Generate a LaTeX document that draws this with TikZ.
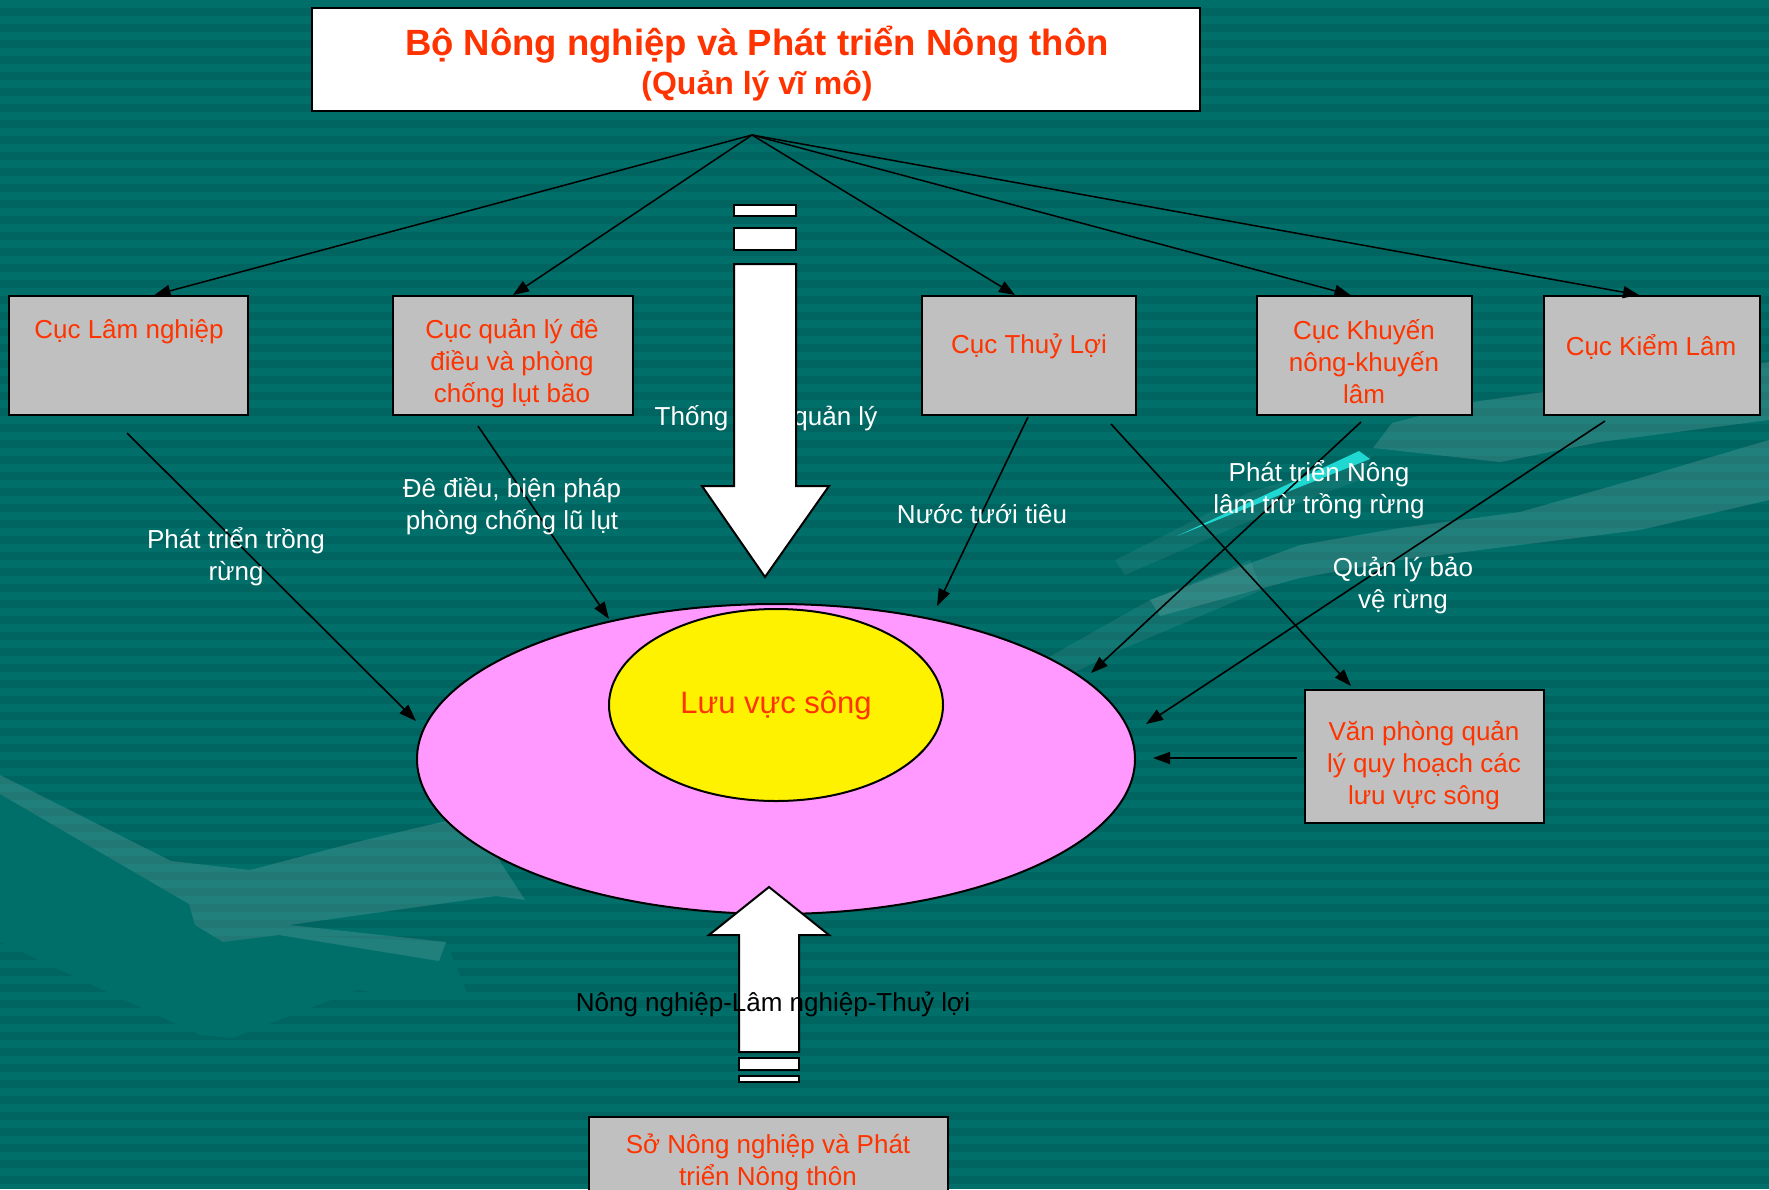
\documentclass[tikz,border=0pt]{standalone}
\usepackage{fontspec}
\setmainfont{Liberation Sans}
\usetikzlibrary{arrows.meta,shapes.geometric,calc}
\definecolor{bgteal}{HTML}{006E69}
\definecolor{bgdark}{HTML}{006560}
\definecolor{redtxt}{HTML}{FF3300}
\definecolor{boxgray}{HTML}{C0C0C0}
\definecolor{pinkfill}{HTML}{FF99FF}
\definecolor{cyanstreak}{HTML}{1FD8D2}
\begin{document}
\begin{tikzpicture}[x=1pt,y=-1pt,
  box/.style={draw=black, line width=2pt, fill=boxgray, inner sep=0pt},
  boxtext/.style={text=redtxt, font=\fontsize{26}{32}\selectfont, align=center, inner sep=0pt},
  lbl/.style={text=white, font=\fontsize{26}{32}\selectfont, align=center, inner sep=0pt},
  conn/.style={line width=1.6pt, -{Triangle[length=17pt,width=12pt]}},
  fan/.style={line width=1.5pt, -{Triangle[length=16pt,width=12pt]}},
  blockarrow/.style={draw=black, line width=2pt, fill=white, line join=miter},
  deco/.style={fill=white, fill opacity=0.13, draw=none},
  plain/.style={fill=bgteal, draw=none}]
\useasboundingbox (0,0) rectangle (1769,1189);
% background
\fill[bgteal] (0,0) rectangle (1769,1189);
\foreach \i in {0,...,74} {\fill[bgdark] (0,{16*\i+8}) rectangle (1769,{16*\i+16});}
% decorative shapes, lower left
\fill[plain] (0,794) -- (189,904) -- (195,925) -- (223,942) -- (279,935) -- (446,942) -- (470,1000) -- (411,997) -- (357,990) -- (232,1038) -- (200,1035) -- (0,942) -- cycle;
\fill[deco] (0,775) -- (171,861) -- (250,870) -- (357,842) -- (429,825) -- (470,815) -- (525,900) -- (496,896) -- (289,925) -- (446,942) -- (439,961) -- (279,935) -- (223,942) -- (195,925) -- (189,904) -- (0,794) -- cycle;
% decorative shapes, right
\fill[deco] (1373,448) -- (1392,423) -- (1473,402) -- (1544,392) -- (1769,362) -- (1769,420) -- (1600,442) -- (1500,462) -- cycle;
\fill[deco] (1150,600) -- (1300,545) -- (1400,528) -- (1520,512) -- (1640,478) -- (1769,440) -- (1769,500) -- (1640,530) -- (1520,545) -- (1400,560) -- (1300,578) -- (1160,616) -- cycle;
\fill[deco, fill opacity=0.07] (1040,662) -- (1150,600) -- (1250,560) -- (1262,590) -- (1120,650) -- (1055,682) -- cycle;
\fill[deco, fill opacity=0.06] (1115,560) -- (1250,492) -- (1372,455) -- (1360,480) -- (1240,525) -- (1125,575) -- cycle;
\fill[cyanstreak] (1177,536) -- (1359,451) -- (1370,459) -- cycle;
% title
\node[draw=black, line width=2pt, fill=white, minimum width=888pt, minimum height=103pt, inner sep=0pt] (title) at (756,59.5) {};
\node[text=redtxt, font=\fontsize{36.5}{40}\selectfont\bfseries, inner sep=0pt] (titleA) at (757,44.5) {Bộ Nông nghiệp và Phát triển Nông thôn};
\node[text=redtxt, font=\fontsize{32}{36}\selectfont\bfseries, inner sep=0pt] (titleB) at (757,86) {(Quản lý vĩ mô)};
\coordinate (hub) at (752,135);
% boxes
\node[box, minimum width=239pt, minimum height=119pt] (lam) at (128.5,355.5) {};
\node[box, minimum width=240pt, minimum height=119pt] (de) at (513,355.5) {};
\node[box, minimum width=214pt, minimum height=119pt] (thuy) at (1029,355.5) {};
\node[box, minimum width=215pt, minimum height=119pt] (khuyen) at (1364.5,355.5) {};
\node[box, minimum width=216pt, minimum height=119pt] (kiem) at (1652,355.5) {};
\node[box, minimum width=239pt, minimum height=133pt] (van) at (1424.5,756.5) {};
\node[box, minimum width=359pt, minimum height=100pt] (so) at (768.5,1167) {};
% fan arrows
\draw[fan] (hub) -- ([xshift=26pt]lam.north);
\draw[fan] (hub) -- (de.north);
\draw[fan] (hub) -- ([xshift=-14pt]thuy.north);
\draw[fan] (hub) -- ([xshift=-14pt]khuyen.north);
\draw[fan] (hub) -- ([xshift=-13pt]kiem.north);
% box texts
\node[boxtext] (tlam) at (129,331.5) {Cục Lâm nghiệp};
\node[boxtext] (tde) at (512,363.5) {Cục quản lý đê\\điều và phòng\\chống lụt bão};
\node[boxtext] (tthuy) at (1029,346.5) {Cục Thuỷ Lợi};
\node[boxtext] (tkhuyen) at (1364,362) {Cục Khuyến\\nông-khuyến\\lâm};
\node[boxtext] (tkiem) at (1651,346.5) {Cục Kiểm Lâm};
\node[boxtext] (tvan) at (1424,765) {Văn phòng quản\\lý quy hoạch các\\lưu vực sông};
\node[boxtext] (tso) at (768,1162.5) {Sở Nông nghiệp và Phát\\triển Nông thôn};
% river basin
\node[draw=black, line width=2pt, fill=pinkfill, ellipse, minimum width=718pt, minimum height=310pt, inner sep=0pt] (outer) at (776,759) {};
\node[draw=black, line width=2pt, fill=yellow, ellipse, minimum width=334pt, minimum height=192pt, inner sep=0pt, text=redtxt, font=\fontsize{31}{36}\selectfont] (inner) at (776,705) {Lưu vực sông};
% connector end points
\coordinate (s1) at (127,433);  \coordinate (e1) at (416,721);
\coordinate (s2) at (478,426);  \coordinate (e2) at (609,619);
\coordinate (s3) at (1028,417); \coordinate (e3) at (937,606);
\coordinate (s4) at (1111,424); \coordinate (e4) at (1351,686);
\coordinate (s5) at (1361,422); \coordinate (e5) at (1091,673);
\coordinate (s6) at (1605,421); \coordinate (e6) at (1146,724);
\coordinate (s7) at (1297,758); \coordinate (e7) at (1153,758);
\draw[conn] (s1) -- (e1);
\draw[conn] (s2) -- (e2);
\draw[conn] (s3) -- (e3);
\draw[conn] (s4) -- (e4);
\draw[conn] (s5) -- (e5);
\draw[conn] (s6) -- (e6);
\draw[conn] (s7) -- (e7);
% white labels
\node[lbl] (l1) at (236,556.5) {Phát triển trồng\\rừng};
\node[lbl] (l2) at (512,506) {Đê điều, biện pháp\\phòng chống lũ lụt};
\node[lbl] (l3) at (982,514.5) {Nước tưới tiêu};
\node[lbl] (l4) at (1319,490) {Phát triển Nông\\lâm trừ trồng rừng};
\node[lbl] (l5) at (1403,586) {Quản lý bảo\\vệ rừng};
\node[lbl] (l6) at (766,418.5) {Thống nhất quản lý};
% block arrows
\draw[blockarrow] (734,205) rectangle (796,216);
\draw[blockarrow] (734,228) rectangle (796,250);
\draw[blockarrow] (734,264) -- (796,264) -- (796,486) -- (829,486) -- (765,577) -- (702,486) -- (734,486) -- cycle;
\draw[blockarrow] (739,1052) -- (739,935) -- (709,935) -- (769,887) -- (829,935) -- (799,935) -- (799,1052) -- cycle;
\draw[blockarrow] (739,1058) rectangle (799,1070);
\draw[blockarrow] (739,1076) rectangle (799,1082);
\node[text=black, font=\fontsize{26}{32}\selectfont, inner sep=0pt] (l7) at (773,1004.5) {Nông nghiệp-Lâm nghiệp-Thuỷ lợi};
\end{tikzpicture}
\end{document}
